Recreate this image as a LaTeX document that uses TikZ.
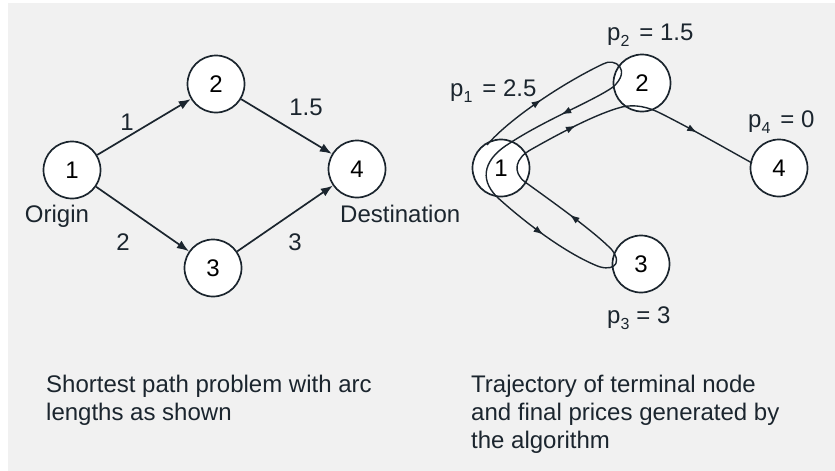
\documentclass[tikz,border=0pt]{standalone}
\usepackage{fontspec}
\setmainfont{Liberation Sans}
\usetikzlibrary{arrows.meta,decorations.markings,calc}

\definecolor{panel}{HTML}{F1F1F1}
\definecolor{ink}{HTML}{1B252E}

% subscript set lower than the baseline, as in p_1
\newcommand{\lowsub}[1]{\raisebox{-6pt}{\fontsize{16}{16}\selectfont #1}}

\tikzset{
  vertex/.style={circle, draw=ink, line width=1.7pt, fill=white,
    minimum size=57pt, inner sep=0pt, font=\fontsize{24}{28}\selectfont},
  label text/.style={text=ink, inner sep=0pt, font=\fontsize{24}{28}\selectfont},
  caption/.style={text=ink, inner sep=0pt, anchor=north west, align=left,
    font=\fontsize{24}{28}\selectfont},
  arc/.style={draw=ink, line width=1.7pt, -{Latex[length=12pt,width=9pt]}},
  trail/.style={draw=ink, line width=1.4pt},
  midarrow/.style={trail, postaction={decorate},
    decoration={markings, mark=at position #1 with {\arrow{Latex[length=10pt,width=7pt]}}}},
  midarrow/.default=0.5
}

\begin{document}
\begin{tikzpicture}[x=1pt, y=-1pt]
  \useasboundingbox (0,0) rectangle (835,471);
  \fill[panel] (8,3) rectangle (835,471);

  % ---- left: shortest path problem ----
  \node[vertex] (a1) at (72,170) {1};
  \node[vertex] (a2) at (216,84) {2};
  \node[vertex] (a3) at (213,268) {3};
  \node[vertex] (a4) at (357,169) {4};

  \draw[arc] (a1) -- (a2);
  \draw[arc] (a2) -- (a4);
  \draw[arc] (a1) -- (a3);
  \draw[arc] (a3) -- (a4);

  \node[label text, anchor=base] (w12) at (127,130) {1};
  \node[label text, anchor=base] (w24) at (306,115) {1.5};
  \node[label text, anchor=base] (w13) at (123,250) {2};
  \node[label text, anchor=base] (w34) at (295,250) {3};

  \node[label text, anchor=base] (orig) at (57,222) {Origin};
  \node[label text, anchor=base west] (dest) at (340,222) {Destination};

  \node[caption] (capl) at (46,375) {Shortest path problem with arc\\lengths as shown};

  % ---- right: trajectory of the terminal node ----
  \node[vertex] (b1) at (501,168) {1};
  \node[vertex] (b2) at (642,83) {2};
  \node[vertex] (b3) at (641,264) {3};
  \node[vertex] (b4) at (779,168) {4};

  \node[label text, anchor=base west] (p1) at (450,96) {p\lowsub{1}\hspace{10pt}= 2.5};
  \node[label text, anchor=base west] (p2) at (607,40) {p\lowsub{2}\hspace{10pt}= 1.5};
  \node[label text, anchor=base west] (p4) at (748,127) {p\lowsub{4}\hspace{10pt}= 0};
  \node[label text, anchor=base west] (p3) at (607,323) {p\lowsub{3}\hspace{7pt}= 3};

  % turning points of the trajectory
  \coordinate (t0) at ($(b1)+(-14,-23)$);
  \coordinate (t1) at ($(b2)+(-39,-19)$);
  \coordinate (t2) at ($(b2)+(-29,4)$);
  \coordinate (t3) at ($(b1)+(9,-25)$);
  \coordinate (t4) at ($(b1)+(-4,29)$);
  \coordinate (t5) at ($(b3)+(-46,1)$);
  \coordinate (t6) at ($(b3)+(-29,-14)$);
  \coordinate (t7) at ($(b1)+(24,14)$);
  \coordinate (t8) at ($(b1)+(31,-19)$);
  \coordinate (t9) at ($(b2)+(-20,24)$);
  \coordinate (t10) at ($(b2)+(18,30)$);
  \coordinate (t11) at ($(b4)+(-27,-5)$);

  % 1 -> 2, back to 1
  \draw[midarrow] (t0) .. controls (510,118) and (565,82) .. (t1);
  \draw[trail] (t1) .. controls (615,57) and (632,70) .. (t2);
  \draw[midarrow] (t2) .. controls (595,100) and (545,120) .. (t3);
  \draw[trail] (t3) .. controls (485,158) and (478,178) .. (t4);
  % 1 -> 3, back to 1
  \draw[midarrow] (t4) .. controls (520,218) and (560,250) .. (t5);
  \draw[trail] (t5) .. controls (610,272) and (624,266) .. (t6);
  \draw[midarrow] (t6) .. controls (595,232) and (550,200) .. (t7);
  \draw[trail] (t7) .. controls (512,172) and (515,158) .. (t8);
  % 1 -> 2 -> 4
  \draw[midarrow] (t8) .. controls (555,136) and (595,114) .. (t9);
  \draw[trail] (t9) .. controls (635,104) and (648,107) .. (t10);
  \draw[midarrow=0.4] (t10) .. controls (690,128) and (725,148) .. (t11);

  \node[caption] (capr) at (471,375) {Trajectory of terminal node\\and final prices generated by\\the algorithm};
\end{tikzpicture}
\end{document}
